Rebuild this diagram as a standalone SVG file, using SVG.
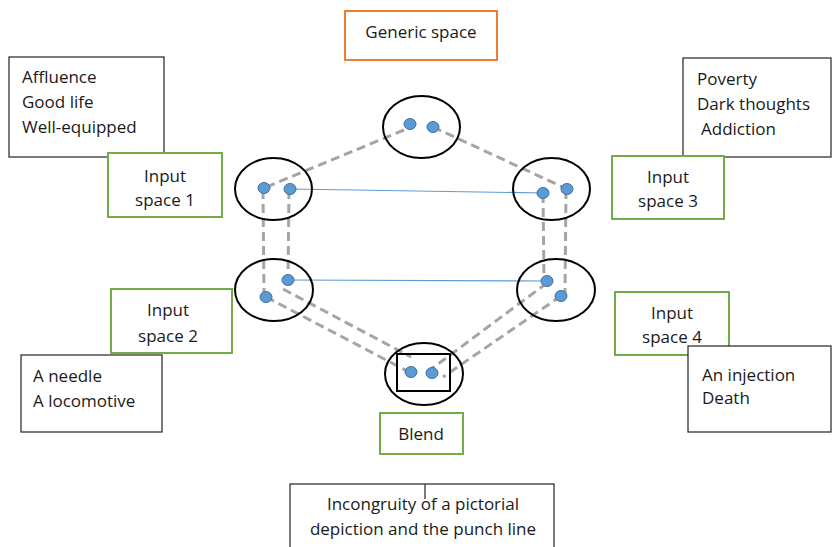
<svg xmlns="http://www.w3.org/2000/svg" width="832" height="547" viewBox="0 0 832 547">
<style>
text{font-family:"Open Sans","Liberation Sans",sans-serif;font-size:17px;fill:#1a1a1a}
.c{text-anchor:middle}
.blk{fill:#fff;stroke:#222;stroke-width:1.2}
.grn{fill:#fff;stroke:#70AD47;stroke-width:2}
.org{fill:#fff;stroke:#ED7D31;stroke-width:2}
.ell{fill:none;stroke:#000;stroke-width:2}
.dot{fill:#5B9BD5;stroke:#41719C;stroke-width:1}
.dash{fill:none;stroke:#A5A5A5;stroke-width:3;stroke-dasharray:9,5}
.blue{fill:none;stroke:#5B9BD5;stroke-width:1.2}
</style>
<rect width="832" height="547" fill="#fff"/>
<g id="generic"><rect class="org" x="345" y="11" width="152" height="49"/><text class="c" x="421" y="38">Generic space</text></g>
<g id="affluence"><rect class="blk" x="9" y="57" width="155" height="100"/><text x="22" y="83">Affluence</text><text x="22" y="108">Good life</text><text x="22" y="133">Well-equipped</text></g>
<g id="poverty"><rect class="blk" x="683" y="58" width="148" height="99"/><text x="697" y="85">Poverty</text><text x="697" y="110">Dark thoughts</text><text x="701" y="135">Addiction</text></g>
<g id="input1"><rect class="grn" x="108" y="153" width="114" height="64"/><text class="c" x="165" y="182">Input</text><text class="c" x="165" y="206">space 1</text></g>
<g id="input3"><rect class="grn" x="612" y="156" width="112" height="63"/><text class="c" x="668" y="183">Input</text><text class="c" x="668" y="207">space 3</text></g>
<g id="input2"><rect class="grn" x="111" y="289" width="121" height="64"/><text class="c" x="168" y="316">Input</text><text class="c" x="168" y="342">space 2</text></g>
<g id="input4"><rect class="grn" x="615" y="292" width="114" height="63"/><text class="c" x="672" y="319">Input</text><text class="c" x="672" y="343">space 4</text></g>
<g id="needle"><rect class="blk" x="21" y="355" width="141" height="77"/><text x="33" y="382">A needle</text><text x="33" y="407">A locomotive</text></g>
<g id="injection"><rect class="blk" x="688" y="346" width="143" height="86"/><text x="702" y="381">An injection</text><text x="702" y="404">Death</text></g>
<g id="blend"><rect class="grn" x="380" y="413" width="83" height="41"/><text class="c" x="421" y="440">Blend</text></g>
<g id="incongruity"><rect class="blk" x="290" y="484" width="264" height="70"/><line x1="425" y1="484" x2="425" y2="499" stroke="#222" stroke-width="1.2"/><text class="c" x="423" y="510">Incongruity of a pictorial</text><text class="c" x="423" y="535">depiction and the punch line</text></g>
<g id="connectors">
<line class="dash" x1="404" y1="130" x2="264" y2="188"/>
<line class="dash" x1="433" y1="127" x2="567" y2="189"/>
<line class="dash" x1="263" y1="190" x2="264" y2="296"/>
<line class="dash" x1="289" y1="190" x2="288" y2="280"/>
<line class="dash" x1="543" y1="194" x2="544" y2="281"/>
<line class="dash" x1="566" y1="190" x2="565" y2="294"/>
<line class="dash" x1="283" y1="289" x2="411" y2="357"/>
<line class="dash" x1="266" y1="297" x2="409" y2="372"/>
<line class="dash" x1="547" y1="283" x2="430" y2="370"/>
<line class="dash" x1="561" y1="296" x2="443" y2="377"/>
<line class="blue" x1="290" y1="189" x2="543" y2="193"/>
<line class="blue" x1="288" y1="280" x2="547" y2="281"/>
</g>
<g id="space-top"><ellipse class="ell" cx="421.5" cy="127" rx="38.5" ry="31"/><ellipse class="dot" cx="410" cy="124" rx="6" ry="5.5"/><ellipse class="dot" cx="433" cy="127" rx="6" ry="5.5"/></g>
<g id="space-1"><ellipse class="ell" cx="273.5" cy="189" rx="38.5" ry="31"/><ellipse class="dot" cx="264" cy="188" rx="6" ry="5.5"/><ellipse class="dot" cx="290" cy="189" rx="6" ry="5.5"/></g>
<g id="space-3"><ellipse class="ell" cx="551.5" cy="189" rx="38.5" ry="31"/><ellipse class="dot" cx="543" cy="193" rx="6" ry="5.5"/><ellipse class="dot" cx="567" cy="189" rx="6" ry="5.5"/></g>
<g id="space-2"><ellipse class="ell" cx="274" cy="290" rx="39" ry="31"/><ellipse class="dot" cx="288" cy="280" rx="6" ry="5.5"/><ellipse class="dot" cx="266" cy="297" rx="6" ry="5.5"/></g>
<g id="space-4"><ellipse class="ell" cx="556" cy="290" rx="39" ry="31"/><ellipse class="dot" cx="547" cy="281" rx="6" ry="5.5"/><ellipse class="dot" cx="561" cy="296" rx="6" ry="5.5"/></g>
<g id="space-blend"><ellipse class="ell" cx="424" cy="374" rx="39" ry="31"/><rect x="397" y="354" width="53" height="37" fill="none" stroke="#000" stroke-width="2"/><ellipse class="dot" cx="411" cy="372" rx="6" ry="5.5"/><ellipse class="dot" cx="432" cy="373" rx="6" ry="5.5"/></g>
</svg>
